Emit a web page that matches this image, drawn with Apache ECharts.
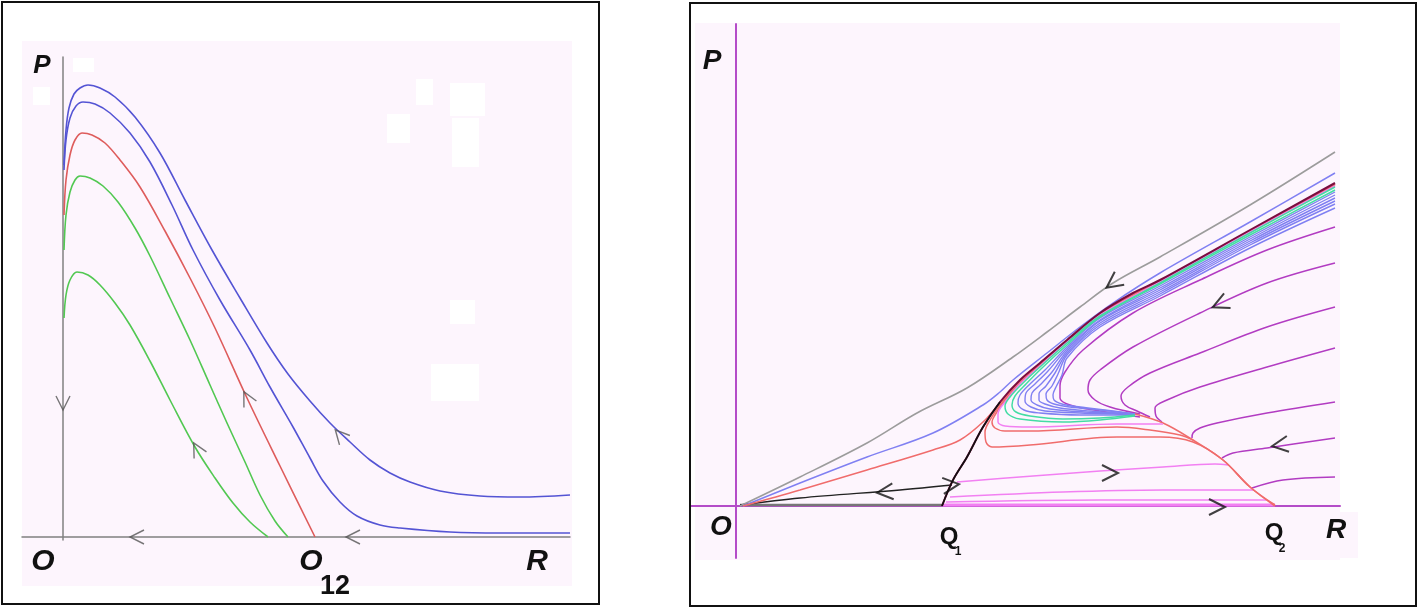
<!DOCTYPE html>
<html><head><meta charset="utf-8">
<script src="https://cdn.jsdelivr.net/npm/echarts/dist/echarts.min.js"></script>
<style>html,body{margin:0;padding:0;background:#fff}#c{width:1418px;height:609px}</style>
</head><body><div id="c"></div>
<script>
// ---------- LEFT PANEL trajectories (R, P) ----------
const leftBlue1 = [[0.1,37.2],[0.3,40.7],[0.6,42.9],[1.1,44.3],[1.7,44.9],[2.5,45.2],[3.7,44.9],[5.2,44.0],[7.2,42.0],[9.7,38.4],[12.2,33.7],[14.9,28.7],[17.7,23.9],[20.4,19.4],[22.5,16.3],[24.7,13.6],[26.7,11.4],[28.7,9.5],[30.7,7.7],[32.7,6.4],[34.7,5.5],[37.7,4.6],[41.7,4.1],[45.7,4.0],[50.7,4.2]];
const leftBlue2 = [[0.1,36.7],[0.3,39.7],[0.7,41.9],[1.3,43.1],[2.0,43.5],[3.2,43.3],[4.7,42.4],[6.7,40.4],[8.7,37.5],[10.9,33.2],[13.0,28.7],[15.7,23.7],[18.7,18.7],[20.7,15.0],[23.0,11.0],[24.7,7.9],[26.0,5.6],[27.7,3.5],[29.4,2.1],[31.7,1.2],[33.7,0.9],[38.7,0.5],[43.7,0.4],[50.7,0.4]];
const leftRed = [[0.1,32.2],[0.3,35.7],[0.7,38.2],[1.2,39.7],[1.9,40.4],[2.9,40.2],[4.2,39.4],[5.7,37.7],[7.7,35.0],[10.2,30.6],[12.7,25.9],[15.2,20.9],[18.4,13.9],[21.7,7.1],[25.2,0]];
const leftGreen1 = [[0.1,28.7],[0.3,32.2],[0.7,34.5],[1.2,35.7],[1.7,36.1],[2.7,35.9],[4.0,35.1],[5.5,33.5],[7.2,30.9],[8.7,28.1],[10.7,23.9],[12.7,19.7],[14.7,15.2],[16.4,11.4],[18.2,7.5],[19.7,4.2],[21.2,1.6],[22.5,0]];
const leftGreen2 = [[0.1,21.9],[0.3,24.2],[0.7,25.7],[1.4,26.5],[2.5,26.2],[3.7,25.2],[5.2,23.4],[6.7,21.2],[8.7,17.6],[10.7,13.7],[13.2,9.0],[15.2,5.9],[17.0,3.4],[18.7,1.5],[20.5,0]];
// arrows: [R, P, rotation deg]
const leftArrows = [[0,13.4,90],[7.4,0,0],[29.0,0,0],[13.4,8.8,-62],[18.4,13.9,-63],[27.7,10.2,-48]];

// ---------- RIGHT PANEL trajectories (R, P) ----------
const rGray = [[0.4,0],[6.4,2.9],[13.1,6.3],[18.1,9.3],[23.1,11.8],[27.7,14.9],[31.1,17.4],[34.4,19.9],[37.7,22.3],[42.4,24.9],[51.4,30.1],[59.9,35.4]];
const rBlueOuter = [[0.7,0],[6.4,2.3],[13.1,4.9],[19.7,7.3],[24.7,10.1],[26.4,11.4],[27.7,12.6],[31.1,15.3],[34.4,17.9],[37.7,20.3],[42.4,23.3],[51.4,28.4],[59.9,33.3]];
const rRedFromO = [[0.7,0],[6.4,1.6],[13.1,3.6],[19.7,5.6],[22.4,6.6],[24.7,8.4],[26.4,10.3],[28.4,12.5],[30.4,14.2],[33.1,16.5],[36.4,19.2],[39.7,21.2],[42.4,22.5],[51.4,27.5],[59.9,32.2]];
const rSeparatrix = [[20.6,0],[21.7,2.6],[23.1,4.9],[24.7,7.9],[26.4,10.4],[28.4,12.6],[30.4,14.3],[33.1,16.6],[36.4,19.3],[39.7,21.3],[42.4,22.6],[51.4,27.6],[59.9,32.3]];
const rSeparatrixLow = [[20.6,0],[21.7,2.6],[23.1,4.9],[24.7,7.9],[26.4,10.4]];
const rRed1 = [[59.9,32.2],[51.4,27.5],[42.4,22.5],[36.4,19.2],[33.1,16.5],[30.4,14.1],[28.4,12.3],[26.4,10.1],[25.4,8.6],[24.9,7.4],[25.0,6.4],[25.6,5.9],[29.4,6.1],[38.1,6.9],[42.4,6.9],[45.7,6.4],[48.7,4.6],[51.4,1.9],[53.9,0.1]];
const rRed2 = [[59.9,32.1],[51.4,27.5],[42.4,22.5],[36.4,19.2],[33.1,16.5],[30.4,14.1],[28.4,12.3],[26.7,10.3],[25.9,9.1],[25.6,8.4],[25.9,7.8],[26.9,7.5],[29.4,7.5],[38.1,7.9],[41.4,7.6],[44.4,7.1],[45.7,6.6]];
const rPinkFan = [[59.9,32.0],[51.4,27.4],[42.4,22.4],[36.4,19.1],[33.1,16.4],[30.4,14.0],[28.4,12.2],[26.9,10.4],[26.2,9.2],[26.2,8.4],[26.9,8.0],[29.4,7.9],[38.1,8.2],[42.7,8.2]];
const rGreen1 = [[59.9,31.9],[51.4,27.3],[42.4,22.3],[36.4,19.0],[33.1,16.3],[30.4,13.9],[28.6,12.2],[27.4,10.9],[26.9,10.0],[27.2,9.2],[28.4,8.7],[32.7,8.4],[36.4,8.6],[39.9,9.0]];
const rGreen2 = [[59.9,31.6],[51.4,27.1],[42.4,22.2],[36.4,18.9],[33.1,16.1],[30.6,13.8],[29.0,12.2],[27.9,11.0],[27.6,10.1],[28.0,9.4],[29.4,9.0],[32.7,8.7],[36.4,8.8],[39.9,9.1]];
const rBlue1 = [[59.9,31.4],[51.4,26.9],[42.4,22.0],[36.4,18.8],[33.1,15.9],[30.9,13.6],[29.4,12.2],[28.4,11.1],[28.2,10.3],[28.8,9.6],[30.4,9.3],[34.4,9.1],[39.9,9.1]];
const rBlue2 = [[59.9,31.1],[51.4,26.7],[42.4,21.8],[36.4,18.6],[33.1,15.7],[31.2,13.5],[29.9,12.2],[29.0,11.3],[28.9,10.5],[29.5,9.9],[30.9,9.5],[34.4,9.3],[39.9,9.2]];
const rBlue3 = [[59.9,30.8],[51.4,26.5],[42.4,21.6],[36.4,18.5],[33.1,15.5],[31.6,13.4],[30.4,12.1],[29.6,11.3],[29.5,10.6],[30.1,10.1],[31.4,9.7],[34.9,9.4],[39.9,9.2]];
const rBlue4 = [[59.9,30.5],[51.4,26.3],[42.4,21.4],[36.4,18.3],[33.1,15.3],[31.9,13.3],[31.0,12.0],[30.3,11.2],[30.3,10.6],[30.9,10.2],[32.4,9.8],[35.4,9.5],[39.9,9.2]];
const rBlue5 = [[59.9,30.2],[51.4,26.1],[42.4,21.2],[36.4,18.1],[33.1,15.1],[32.2,13.2],[31.6,12.0],[31.0,11.2],[31.1,10.6],[31.8,10.2],[33.4,9.9],[36.4,9.6],[39.9,9.2]];
const rBlue6 = [[59.9,29.8],[51.4,25.8],[42.4,21.0],[36.4,17.9],[33.1,14.8],[32.6,13.1],[32.0,11.9],[31.7,11.1],[31.8,10.6],[32.6,10.2],[34.4,9.9],[36.9,9.6],[39.9,9.2]];
const rPurple1 = [[59.9,27.9],[53.1,25.6],[46.4,22.6],[39.7,19.3],[34.7,15.6],[32.9,13.4],[32.4,12.0],[32.4,10.8],[33.4,10.1],[36.4,9.5],[40.4,8.9]];
const rPurple2 = [[59.9,24.3],[53.1,22.3],[46.4,19.3],[39.7,15.9],[36.4,13.6],[35.4,12.6],[35.2,11.6],[35.9,10.6],[37.4,9.9],[40.4,9.2]];
const rPurple3 = [[59.9,19.9],[53.1,17.9],[46.4,15.3],[41.4,13.3],[39.2,11.9],[38.5,11.0],[38.9,10.1],[40.1,9.5],[41.4,8.9]];
const rPurple4 = [[59.9,15.8],[53.1,13.9],[46.4,11.9],[43.1,10.6],[41.9,9.8],[42.0,9.0],[42.6,8.4]];
const rPurple5 = [[59.9,10.4],[53.1,9.3],[48.1,8.3],[46.4,7.8],[45.7,7.3],[45.6,6.8]];
const rPurple6 = [[59.9,6.8],[53.1,5.8],[49.7,5.3],[48.6,4.8]];
const rPurple7 = [[59.9,2.9],[54.7,2.6],[51.6,1.8]];
const rArc = [[39.9,9.2],[42.7,8.3],[45.7,6.6],[48.7,4.6],[51.4,1.9],[53.9,0]];
const rPink1 = [[22.1,2.4],[29.7,3.0],[36.4,3.5],[42.7,3.9],[47.9,4.2],[49.2,4.1]];
const rPink2 = [[21.4,0.9],[32.7,1.4],[42.7,1.6],[51.7,1.6]];
const rPink3 = [[21.0,0.4],[36.4,0.6],[53.0,0.6]];
const rPinkAxis = [[20.6,0.1],[53.9,0.1]];
const rBlackLine = [[0.4,0.1],[6.4,0.8],[16.4,1.6],[21.6,2.1]];
const rGrayAxis = [[0.4,0.1],[20.6,0.1]];
const rArrows = [[37.7,22.3,36],[48.4,20.2,24],[54.4,6.1,8],[37.4,3.3,180],[48.1,-0.1,180],[14.9,1.4,5],[21.5,2.1,-174]];

const chart = echarts.init(document.getElementById('c'), null, {renderer:'canvas'});

function line(data, color, width, gi, z){
  return {type:'line', xAxisIndex:gi, yAxisIndex:gi, data:data, showSymbol:false, symbol:'none',
    smooth:0.35, lineStyle:{color:color, width:width}, z:z||2, silent:true, animation:false};
}
function arrows(list, color, width, size, gi){
  return {type:'scatter', xAxisIndex:gi, yAxisIndex:gi, symbol:'path://M12,0L0,6L12,12', symbolSize:size,
    data:list.map(a=>({value:[a[0],a[1]], symbolRotate:a[2]})),
    itemStyle:{color:'none', borderColor:color, borderWidth:width}, z:20, silent:true, animation:false};
}
function axisCommon(color, width){
  return {type:'value', axisLine:{show:true, onZero:true, lineStyle:{color:color, width:width}},
    axisTick:{show:false}, axisLabel:{show:false}, splitLine:{show:false}};
}
function txt(x, y, s, font, fill){
  return {type:'text', x:x, y:y, z:100, silent:true,
    style:{text:s, font:font, fill:fill||'#111', align:'center', verticalAlign:'middle', textAlign:'center', textVerticalAlign:'middle'}};
}
function rect(x, y, w, h, fill, z){
  return {type:'rect', shape:{x:x,y:y,width:w,height:h}, style:{fill:fill}, z:z||-20, silent:true};
}
function box(x, y, w, h){
  return {type:'rect', shape:{x:x,y:y,width:w,height:h}, style:{fill:'none', stroke:'#111', lineWidth:2}, z:50, silent:true};
}

const PINK = '#fdf5fd';
const LB = '#5454d4', LR = '#de5c5c', LG = '#52c852';
const RG = '#9c9c9c', RB = '#8080f2', RDR = '#7a0c40', RGR = '#44dca4', RRD = '#f06c6c', RPK = '#f280f2', RPU = '#b23cc2';

const option = {
  animation:false,
  backgroundColor:'#ffffff',
  grid:[
    {left:22, right:848, top:57, bottom:69},
    {left:690, right:78, top:24, bottom:51}
  ],
  xAxis:[
    Object.assign(axisCommon('#808080',1.5), {gridIndex:0, min:-4.1, max:50.7}),
    Object.assign(axisCommon('#b44cc8',2), {gridIndex:1, min:-4.6, max:60.4})
  ],
  yAxis:[
    Object.assign(axisCommon('#808080',1.5), {gridIndex:0, min:-0.3, max:48}),
    Object.assign(axisCommon('#b44cc8',2), {gridIndex:1, min:-5.2, max:48.2})
  ],
  graphic:{elements:[
    rect(22,41,550,545,PINK),
    rect(416,79,17,26,'#ffffff',-19), rect(450,83,35,33,'#ffffff',-19), rect(387,114,23,29,'#ffffff',-19),
    rect(452,118,27,49,'#ffffff',-19), rect(450,300,25,24,'#ffffff',-19), rect(431,364,48,37,'#ffffff',-19),
    rect(73,58,21,14,'#ffffff',-19), rect(33,87,17,18,'#ffffff',-19),
    rect(695,23,645,537,PINK),
    rect(1310,512,48,46,PINK),
    box(2,2,597,602), box(690,3,726,603),
    txt(42,66,'P','italic bold 26px "Liberation Sans"'),
    txt(43,562,'O','italic bold 30px "Liberation Sans"'),
    txt(311,562,'O','italic bold 30px "Liberation Sans"'),
    txt(335,587,'12','bold 27px "Liberation Sans"'),
    txt(537,562,'R','italic bold 30px "Liberation Sans"'),
    txt(712,61,'P','italic bold 28px "Liberation Sans"'),
    txt(721,527,'O','italic bold 28px "Liberation Sans"'),
    txt(949,537,'Q','bold 24px "Liberation Sans"'),
    txt(958,552,'1','bold 12px "Liberation Sans"'),
    txt(1274,533,'Q','bold 24px "Liberation Sans"'),
    txt(1282,549,'2','bold 12px "Liberation Sans"'),
    txt(1336,530,'R','italic bold 28px "Liberation Sans"')
  ]},
  series:[
    line(leftBlue1, LB, 1.6, 0), line(leftBlue2, LB, 1.6, 0), line(leftRed, LR, 1.6, 0),
    line(leftGreen1, LG, 1.6, 0), line(leftGreen2, LG, 1.6, 0),
    arrows(leftArrows, '#555', 1.4, [14,14], 0),

    line(rPinkAxis, RPK, 3, 1, 1), line(rGrayAxis, '#777', 2.5, 1, 1),
    line(rPink1, RPK, 1.6, 1), line(rPink2, RPK, 1.6, 1), line(rPink3, RPK, 1.6, 1),
    line(rBlackLine, '#222', 1.4, 1),
    line(rPurple1, RPU, 1.5, 1), line(rPurple2, RPU, 1.5, 1), line(rPurple3, RPU, 1.5, 1),
    line(rPurple4, RPU, 1.5, 1), line(rPurple5, RPU, 1.5, 1), line(rPurple6, RPU, 1.5, 1), line(rPurple7, RPU, 1.5, 1),
    line(rArc, RRD, 1.6, 1),
    line(rGray, RG, 1.6, 1), line(rBlueOuter, RB, 1.5, 1), line(rRedFromO, RRD, 1.5, 1),
    line(rRed1, RRD, 1.5, 1), line(rRed2, RRD, 1.5, 1), line(rPinkFan, RPK, 1.5, 1),
    line(rBlue6, RB, 1.4, 1), line(rBlue5, RB, 1.4, 1), line(rBlue4, RB, 1.4, 1),
    line(rBlue3, RB, 1.4, 1), line(rBlue2, RB, 1.4, 1), line(rBlue1, RB, 1.4, 1),
    line(rGreen2, RGR, 1.5, 1), line(rGreen1, RGR, 1.5, 1),
    line(rSeparatrix, RDR, 2, 1, 3), line(rSeparatrixLow, '#111', 1.6, 1, 4),
    arrows(rArrows, '#111', 2, [16,16], 1)
  ]
};
chart.setOption(option);
</script></body></html>
